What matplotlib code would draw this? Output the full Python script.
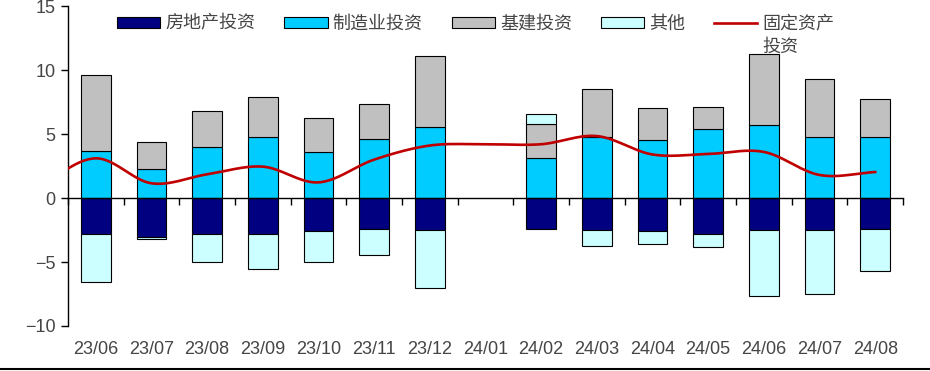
import numpy as np
import matplotlib.pyplot as plt
from matplotlib.lines import Line2D

plt.rcParams['font.family'] = ['Liberation Sans', 'Noto Sans CJK SC']

# data (single month growth contribution, %)
months = ['23/06', '23/07', '23/08', '23/09', '23/10', '23/11', '23/12', '24/01',
          '24/02', '24/03', '24/04', '24/05', '24/06', '24/07', '24/08']
real_estate = [-2.84, -3.07, -2.84, -2.84, -2.55, -2.42, -2.50, np.nan,
               -2.45, -2.50, -2.55, -2.84, -2.47, -2.50, -2.40]
manufacturing = [3.67, 2.30, 4.00, 4.74, 3.57, 4.60, 5.55, np.nan,
                 3.13, 4.80, 4.50, 5.39, 5.70, 4.80, 4.77]
infrastructure = [5.92, 2.05, 2.80, 3.18, 2.65, 2.72, 5.52, np.nan,
                  2.63, 3.69, 2.56, 1.75, 5.52, 4.50, 2.94]
other = [-3.70, -0.16, -2.19, -2.73, -2.48, -2.06, -4.53, np.nan,
         0.84, -1.22, -1.02, -0.99, -5.21, -4.97, -3.28]
# fixed asset investment line, first value is 23/05 (only partly visible)
fai_months = ['23/05'] + months
fai = [1.0, 3.10, 1.15, 1.85, 2.45, 1.22, 3.00, 4.10, 4.20,
       4.20, 4.84, 3.40, 3.44, 3.60, 1.80, 2.03]

navy = '#000080'
cyan = '#00CCFF'
grey = '#C0C0C0'
light = '#CCFFFF'
red = '#C00000'
txt = '#454545'


def smooth(xs, ys, n=30):
    # catmull-rom style smoothing, similar to excel smoothed lines
    xs = np.asarray(xs, float)
    ys = np.asarray(ys, float)
    m = np.zeros_like(ys)
    m[1:-1] = (ys[2:] - ys[:-2]) / 2
    m[0] = ys[1] - ys[0]
    m[-1] = ys[-1] - ys[-2]
    px, py = [], []
    for i in range(len(xs) - 1):
        t = np.linspace(0, 1, n, endpoint=False)
        h00 = 2 * t**3 - 3 * t**2 + 1
        h10 = t**3 - 2 * t**2 + t
        h01 = -2 * t**3 + 3 * t**2
        h11 = t**3 - t**2
        px.extend(xs[i] + t * (xs[i + 1] - xs[i]))
        py.extend(h00 * ys[i] + h10 * m[i] + h01 * ys[i + 1] + h11 * m[i + 1])
    px.append(xs[-1])
    py.append(ys[-1])
    return np.array(px), np.array(py)


fig = plt.figure(figsize=(9.3, 3.71), dpi=100)
ax = fig.add_axes([0.0731, 0.1213, 0.8979, 0.8625])

x = np.arange(len(months))
w = 0.53
re = np.array(real_estate)
mf = np.array(manufacturing)
inf = np.array(infrastructure)
ot = np.array(other)

ekw = dict(edgecolor='black', linewidth=0.8, zorder=2)
b1 = ax.bar(x, re, w, color=navy, **ekw)
b2 = ax.bar(x, mf, w, color=cyan, **ekw)
b3 = ax.bar(x, inf, w, bottom=np.nan_to_num(mf), color=grey, **ekw)
ot_bottom = np.where(ot > 0, np.nan_to_num(mf) + np.nan_to_num(inf), np.nan_to_num(re))
b4 = ax.bar(x, ot, w, bottom=ot_bottom, color=light, **ekw)

fx = np.arange(len(fai_months)) - 1
sx, sy = smooth(fx, fai)
ln, = ax.plot(sx, sy, color=red, linewidth=1.9, zorder=3)

ax.set_xlim(-0.5, len(months) - 0.5)
ax.set_ylim(-10, 15)
ax.set_yticks([-10, -5, 0, 5, 10, 15])
ax.tick_params(axis='y', direction='out', length=5, width=1, labelsize=13,
               labelcolor=txt, pad=4)

for s in ['top', 'right']:
    ax.spines[s].set_visible(False)
ax.spines['left'].set_linewidth(1)
ax.spines['bottom'].set_position(('data', 0))
ax.spines['bottom'].set_linewidth(1)
ax.set_xticks(np.arange(len(months) + 1) - 0.5)
ax.tick_params(axis='x', direction='out', length=5, width=1, labelbottom=False)

sec = ax.secondary_xaxis(0.0)
sec.set_xticks(x)
sec.set_xticklabels(months)
sec.tick_params(length=0, labelsize=13, labelcolor=txt, pad=11)
sec.spines['bottom'].set_visible(False)

leg = ax.legend([b1, b2, b3, b4, ln], ['房地产投资', '制造业投资', '基建投资', '其他', '固定资产'],
                loc='upper left', bbox_to_anchor=(0.0587, 0.97), ncol=5, frameon=False,
                fontsize=13, handlelength=2.4, handleheight=0.55, handletextpad=0.28,
                columnspacing=1.6, labelcolor=txt, borderpad=0, borderaxespad=0)

# second line of the last legend label, placed under the first one
fig.canvas.draw()
bb = leg.get_texts()[4].get_window_extent().transformed(fig.transFigure.inverted())
fig.text(bb.x0, bb.y0 - 0.016, '投资', fontsize=13, color=txt, ha='left', va='top')

fig.add_artist(Line2D([0, 1], [0.006, 0.006], color='black', linewidth=1.5))

fig.savefig('out.png', dpi=100)
